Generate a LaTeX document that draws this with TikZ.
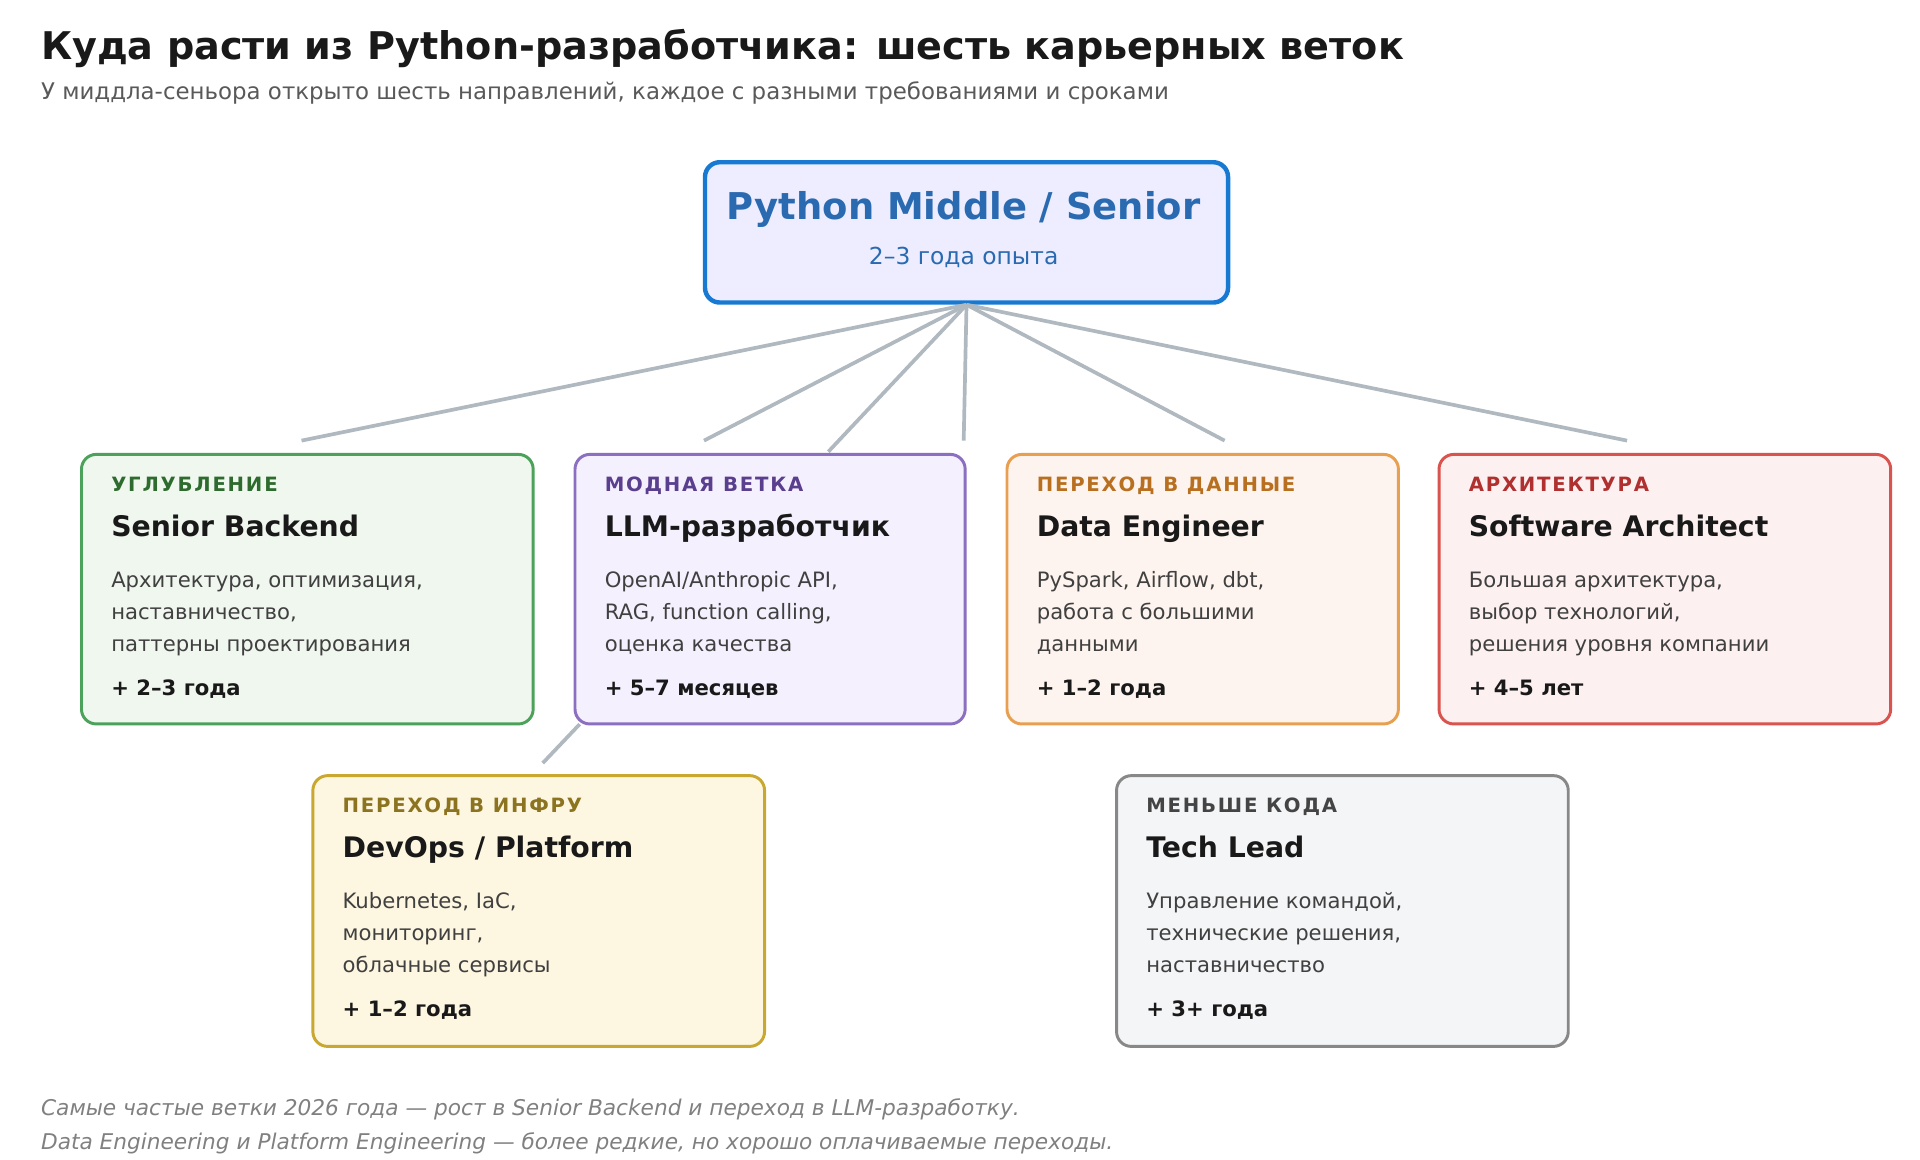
\documentclass[tikz,border=0pt]{standalone}
\usepackage{fontspec}
\setmainfont{DejaVu Sans}
\newfontfamily\spaced[LetterSpace=9]{DejaVu Sans}
\usetikzlibrary{positioning,calc}
\definecolor{linegray}{HTML}{B0B8C0}
\definecolor{titleblue}{HTML}{2A6AB0}
\definecolor{greenB}{HTML}{4CA25A}\definecolor{greenF}{HTML}{F0F7EF}\definecolor{greenL}{HTML}{2E6B2E}
\definecolor{purpB}{HTML}{8B6FC0}\definecolor{purpF}{HTML}{F5F0FD}\definecolor{purpL}{HTML}{5A3F8E}
\definecolor{orB}{HTML}{E8A050}\definecolor{orF}{HTML}{FEF4EF}\definecolor{orL}{HTML}{B87020}
\definecolor{redB}{HTML}{D9534F}\definecolor{redF}{HTML}{FDF0F0}\definecolor{redL}{HTML}{B03030}
\definecolor{yelB}{HTML}{C8A830}\definecolor{yelF}{HTML}{FDF6E0}\definecolor{yelL}{HTML}{8B7320}
\definecolor{grB}{HTML}{888888}\definecolor{grF}{HTML}{F4F5F7}\definecolor{grL}{HTML}{444444}
% one career card: name, x, y, width, height, colour prefix, label, title, three lines, duration
\newcommand{\careercard}[9]{%
  \node[card, draw=#6B, fill=#6F, minimum width=#4*0.5pt, minimum height=#5*0.5pt] (#1) at (#2,#3) {};
  \node[lab, text=#6L] at ($(#1.north west)+(25,31)$) {#7};
  \node[ttl] at ($(#1.north west)+(25,68)$) {#8};
  \node[desc] at ($(#1.north west)+(25,109)$) {#9};
}
\newcommand{\cardtail}[5]{%
  \node[desc] at ($(#1.north west)+(25,135)$) {#2};
  \node[desc] at ($(#1.north west)+(25,161)$) {#3};
  \node[dur] at ($(#1.north west)+(25,197)$) {#4};
}
\begin{document}
\begin{tikzpicture}[x=0.5pt, y=-0.5pt,
  card/.style={draw, line width=1.2pt, rounded corners=6pt, anchor=north west, inner sep=0pt},
  lab/.style={anchor=base west, inner sep=0pt, font=\spaced\fontsize{8}{10}\selectfont\bfseries},
  ttl/.style={anchor=base west, inner sep=0pt, text=black!90, font=\fontsize{11.5}{14}\selectfont\bfseries},
  desc/.style={anchor=base west, inner sep=0pt, text=black!75, font=\fontsize{8.6}{11}\selectfont},
  dur/.style={anchor=base west, inner sep=0pt, text=black!90, font=\fontsize{8.6}{11}\selectfont\bfseries},
  branch/.style={draw=linegray, line width=1.5pt}
]
  \useasboundingbox (0,0) rectangle (1560,942.5);

  % heading
  \node[anchor=base west, inner sep=0pt, text=black!90, font=\fontsize{15.5}{18}\selectfont\bfseries] (title) at (33,48) {Куда расти из Python-разработчика: шесть карьерных веток};
  \node[anchor=base west, inner sep=0pt, text=black!65, font=\fontsize{9.3}{11}\selectfont] (subtitle) at (33,81) {У миддла-сеньора открыто шесть направлений, каждое с разными требованиями и сроками};

  % root
  \node[card, draw=titleblue!70!cyan!80!blue, line width=1.8pt, fill=blue!7, minimum width=212.5pt, minimum height=57pt] (root) at (571,130) {};
  \node[text=titleblue, font=\fontsize{15}{18}\selectfont\bfseries, inner sep=0pt] (rootname) at (783,170) {Python Middle / Senior};
  \node[text=titleblue, font=\fontsize{9.5}{11}\selectfont, inner sep=0pt] (rootyears) at (783,209) {2–3 года опыта};

  % branch ends
  \coordinate (eA) at (245,358);
  \coordinate (eB) at (572,358);
  \coordinate (eB2) at (673,367);
  \coordinate (eC) at (783,358);
  \coordinate (eD) at (995,358);
  \coordinate (eE) at (1322,358);
  \foreach \e in {eA,eB,eB2,eC,eD,eE}
    \draw[branch] (root.south) -- (\e);

  % cards
  \careercard{senior}{65}{368}{367}{219}{green}{УГЛУБЛЕНИЕ}{Senior Backend}{Архитектура, оптимизация,}
  \cardtail{senior}{наставничество,}{паттерны проектирования}{+ 2–3 года}{}
  \careercard{llm}{466}{368}{317}{219}{purp}{МОДНАЯ ВЕТКА}{LLM-разработчик}{OpenAI/Anthropic API,}
  \cardtail{llm}{RAG, function calling,}{оценка качества}{+ 5–7 месяцев}{}
  \careercard{data}{817}{368}{318}{219}{or}{ПЕРЕХОД В ДАННЫЕ}{Data Engineer}{PySpark, Airflow, dbt,}
  \cardtail{data}{работа с большими}{данными}{+ 1–2 года}{}
  \careercard{arch}{1168}{368}{367}{219}{red}{АРХИТЕКТУРА}{Software Architect}{Большая архитектура,}
  \cardtail{arch}{выбор технологий,}{решения уровня компании}{+ 4–5 лет}{}
  \careercard{devops}{253}{629}{367}{220}{yel}{ПЕРЕХОД В ИНФРУ}{DevOps / Platform}{Kubernetes, IaC,}
  \cardtail{devops}{мониторинг,}{облачные сервисы}{+ 1–2 года}{}
  \careercard{lead}{906}{629}{367}{220}{gr}{МЕНЬШЕ КОДА}{Tech Lead}{Управление командой,}
  \cardtail{lead}{технические решения,}{наставничество}{+ 3+ года}{}

  % link to infra
  \coordinate (eF) at (441,620);
  \draw[branch] (llm.south west) ++(5,-1) -- (eF);

  % footer
  \node[anchor=base west, inner sep=0pt, text=black!50, font=\fontsize{8.8}{11}\selectfont\itshape] (note1) at (33,906) {Самые частые ветки 2026 года — рост в Senior Backend и переход в LLM-разработку.};
  \node[anchor=base west, inner sep=0pt, text=black!50, font=\fontsize{8.8}{11}\selectfont\itshape] (note2) at (33,934) {Data Engineering и Platform Engineering — более редкие, но хорошо оплачиваемые переходы.};
\end{tikzpicture}
\end{document}
